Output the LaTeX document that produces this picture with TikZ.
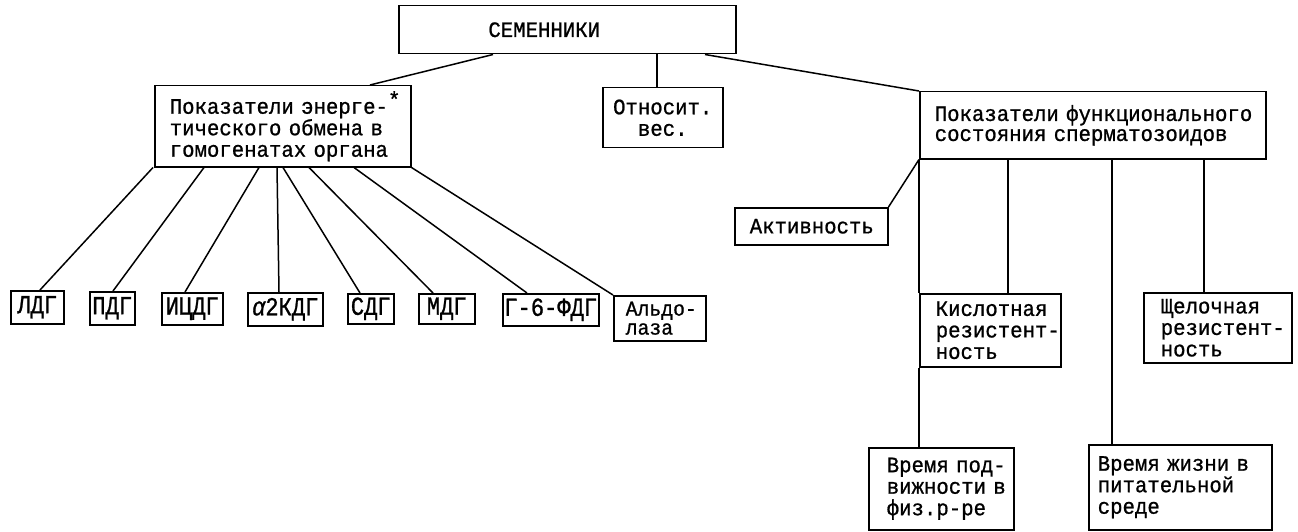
\documentclass[tikz,border=0pt]{standalone}
\usepackage{fontspec}
\newfontfamily\tw[FakeStretch=0.94,FakeBold=0.9]{Liberation Mono}
\newfontfamily\twc[FakeStretch=0.85,FakeBold=1.0]{Liberation Mono}
\usetikzlibrary{calc}
\begin{document}
\begin{tikzpicture}[x=1pt,y=-1pt,
  box/.style={draw, line width=1.5pt, anchor=north west, inner xsep=0pt, inner ysep=0pt, align=left, font=\tw\fontsize{22}{21.5}\selectfont},
  cbox/.style={box, align=center},
  sbox/.style={draw, line width=1.5pt, anchor=north west, inner sep=0pt, align=center, font=\twc\fontsize{26}{26}\selectfont},
  link/.style={line width=1.5pt}]
\fill[white] (0,0) rectangle (1298,532);
\useasboundingbox (0,0) rectangle (1298,532);

% main boxes
\node[cbox, minimum width=337pt, minimum height=48pt, text width=337pt] (S) at (398,5) {\hspace*{-46pt}СЕМЕННИКИ};
\node[box, minimum width=256pt, minimum height=81pt, text width=256pt] (L) at (154,85)
  {\hspace*{15pt}Показатели энерге-\rlap{\raisebox{0.3em}{*}}\\\hspace*{15pt}тического обмена в\\\hspace*{15pt}гомогенатах органа};
\node[cbox, minimum width=120pt, minimum height=60pt, text width=120pt] (O) at (602,87) {Относит.\\вес.};
\node[box, minimum width=346pt, minimum height=67pt, text width=346pt, font=\tw\fontsize{22}{20}\selectfont] (R) at (919,91)
  {\hspace*{15pt}Показатели функционального\\\hspace*{15pt}состояния сперматозоидов};
\node[box, minimum width=153pt, minimum height=37pt, text width=153pt] (A) at (734,207) {\hspace*{15pt}Активность};
\node[box, minimum width=141pt, minimum height=73pt, text width=141pt] (K) at (919,293)
  {\hspace*{16pt}Кислотная\\\hspace*{16pt}резистент-\\\hspace*{16pt}ность};
\node[box, minimum width=148pt, minimum height=70pt, text width=148pt] (Sh) at (1143,292)
  {\hspace*{17pt}Щелочная\\\hspace*{17pt}резистент-\\\hspace*{17pt}ность};
\node[box, minimum width=145pt, minimum height=82pt, text width=145pt] (V1) at (868,447)
  {\hspace*{18pt}Время под-\\\hspace*{18pt}вижности в\\\hspace*{18pt}физ.р-ре};
\node[box, minimum width=183pt, minimum height=85pt, text width=183pt] (V2) at (1088,444)
  {\hspace*{9pt}Время жизни в\\\hspace*{9pt}питательной\\\hspace*{9pt}среде};

% small boxes
\node[sbox, minimum width=53pt, minimum height=33pt] (d1) at (10,290) {ЛДГ};
\node[sbox, minimum width=45pt, minimum height=33pt] (d2) at (89,291) {ПДГ};
\node[sbox, minimum width=61pt, minimum height=32pt] (d3) at (161,292) {ИЦДГ};
\node[sbox, minimum width=75pt, minimum height=33pt] (d4) at (247,292) {{\itshape α}2КДГ};
\node[sbox, minimum width=46pt, minimum height=30pt] (d5) at (347,293) {СДГ};
\node[sbox, minimum width=56pt, minimum height=30pt] (d6) at (418,293) {МДГ};
\node[sbox, minimum width=96pt, minimum height=32pt] (d7) at (502,293) {Г-6-ФДГ};
\node[box, minimum width=92pt, minimum height=45pt, text width=92pt, font=\tw\fontsize{21}{19}\selectfont] (Al) at (613,295)
  {\hspace*{12pt}Альдо-\\\hspace*{12pt}лаза};

% connectors from the top box
\draw[link] ($(S.south west)+(95,0)$) -- ($(L.north west)+(216,0)$);
\draw[link] ($(S.south west)+(259,0)$) -- ($(O.north west)+(55,0)$);
\draw[link] ($(S.south west)+(307,0)$) -- (R.north west);

% connectors from the left box
\draw[link] ($(L.south west)+(-1,0)$) -- ($(d1.north west)+(30,0)$);
\draw[link] ($(L.south west)+(50,0)$) -- ($(d2.north west)+(24,0)$);
\draw[link] ($(L.south west)+(105,0)$) -- ($(d3.north west)+(24,0)$);
\draw[link] ($(L.south west)+(123,0)$) -- ($(d4.north west)+(32,0)$);
\draw[link] ($(L.south west)+(129,0)$) -- ($(d5.north west)+(13,0)$);
\draw[link] ($(L.south west)+(155,0)$) -- ($(d6.north west)+(15,0)$);
\draw[link] ($(L.south west)+(200,0)$) -- ($(d7.north west)+(25,0)$);
\draw[link] (L.south east) -- (Al.north west);

% connectors from the right box
\draw[link] (R.south west) -- (A.north east);
\draw[link] (R.south west) -- (K.north west);
\draw[link] ($(R.south west)+(89,0)$) -- ($(K.north west)+(89,0)$);
\draw[link] (K.south west) -- ($(V1.north west)+(51,0)$);
\draw[link] ($(R.south west)+(193,0)$) -- ($(V2.north west)+(24,0)$);
\draw[link] ($(R.south west)+(285,0)$) -- ($(Sh.north west)+(61,0)$);
\end{tikzpicture}
\end{document}
